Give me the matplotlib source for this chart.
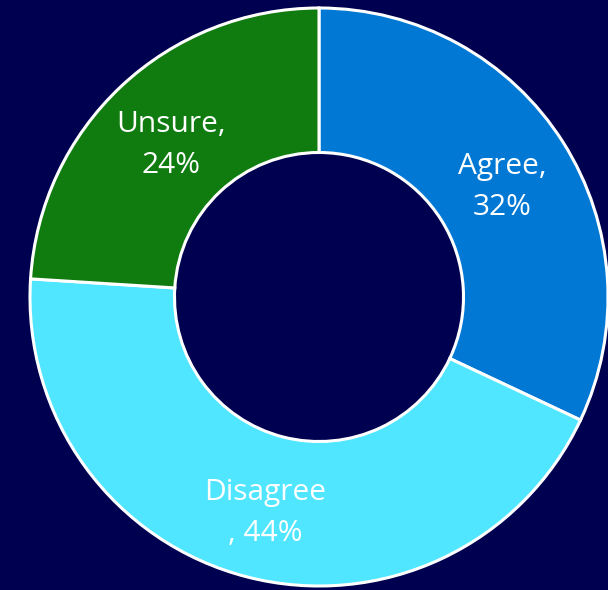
import numpy as np
import matplotlib
matplotlib.use("Agg")
import matplotlib.pyplot as plt

# survey responses (percent)
categories = ["Agree", "Disagree", "Unsure"]
values = [32, 44, 24]
labels = ["Agree,\n32%", "Disagree\n, 44%", "Unsure,\n24%"]
colors = ["#0078D4", "#50E6FF", "#107C10"]

bg = "#000050"

fig = plt.figure(figsize=(6.08, 5.9), dpi=100, facecolor=bg)
W, H = 608, 590
cx, cy, r = 319, 293, 289
ax = fig.add_axes([(cx - r) / W, (cy - r) / H, 2 * r / W, 2 * r / H])
ax.set_facecolor(bg)

wedges, _ = ax.pie(values, colors=colors, startangle=90, counterclock=False,
                   radius=1, wedgeprops=dict(width=0.5, edgecolor="white", linewidth=2.2))

# labels in the middle of each ring segment
for w, lab in zip(wedges, labels):
    ang = np.deg2rad((w.theta1 + w.theta2) / 2)
    ax.text(0.75 * np.cos(ang), 0.75 * np.sin(ang) - 0.02, lab, ha="center", va="center",
            color="white", fontsize=21.5, family="Open Sans", linespacing=1.55)

ax.set_xlim(-1, 1)
ax.set_ylim(-1, 1)
ax.set_aspect("equal")
ax.axis("off")

fig.savefig("out.png", dpi=100, facecolor=bg)
